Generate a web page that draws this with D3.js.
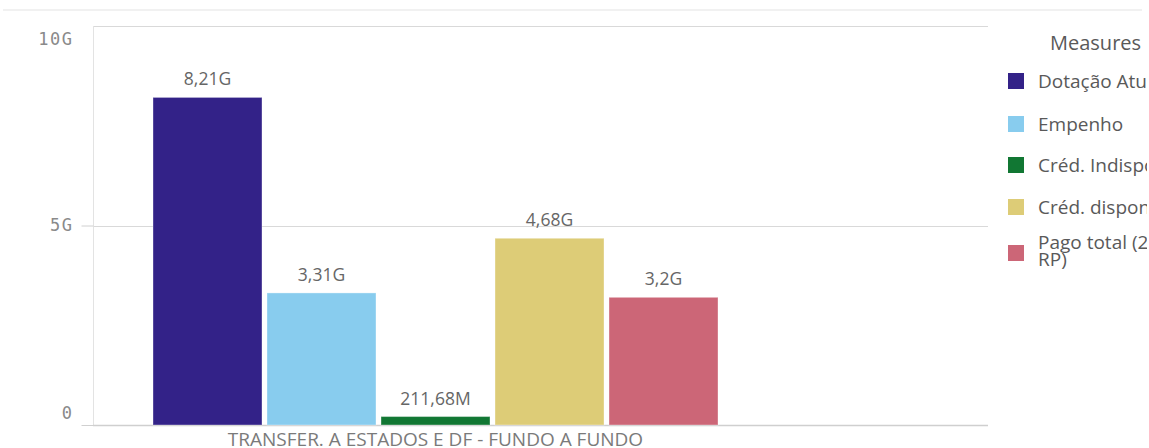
<!DOCTYPE html>
<html><head><meta charset="utf-8">
<script src="https://cdn.jsdelivr.net/npm/d3@7"></script>
<style>
html,body{margin:0;padding:0;background:#fff;}
svg{display:block;}
</style></head>
<body>
<svg id="chart" width="1149" height="448"></svg>
<script>
const category = "TRANSFER. A ESTADOS E DF - FUNDO A FUNDO";
const measures = ["Dotação Atual", "Empenho", "Créd. Indisponível", "Créd. disponível", "Pago total (2021 + RP)"];
const values = [8.21e9, 3.31e9, 211.68e6, 4.68e9, 3.2e9];
const valueLabels = ["8,21G", "3,31G", "211,68M", "4,68G", "3,2G"];
const colors = ["#332288", "#88ccee", "#117733", "#ddcc77", "#cc6677"];
const yTicks = [0, 5e9, 10e9];
const yTickLabels = ["0", "5G", "10G"];
const legendTitle = "Measures";

const svg = d3.select("#chart");
const plotLeft = 93, plotRight = 988, plotTop = 26, plotBottom = 425;

// top faint separator
svg.append("line").attr("x1", 3).attr("x2", 1142).attr("y1", 10).attr("y2", 10)
  .attr("stroke", "#f1f1f1").attr("stroke-width", 2);

const y = d3.scaleLinear().domain([0, 10e9]).range([plotBottom, plotTop]);
const x = d3.scaleBand().domain(measures).range([153, 718]).paddingInner(0.044).paddingOuter(0);

// gridlines
svg.append("g").selectAll("line").data(yTicks.filter(d => d > 0)).join("line")
  .attr("x1", plotLeft).attr("x2", plotRight)
  .attr("y1", d => Math.round(y(d)) + 0.5).attr("y2", d => Math.round(y(d)) + 0.5)
  .attr("stroke", "#d9d9d9").attr("stroke-width", 1);

// y axis
const yAxis = d3.axisLeft(y).tickValues(yTicks).tickFormat((d, i) => yTickLabels[i]).tickSize(12).tickPadding(8);
const gy = svg.append("g").attr("transform", `translate(${plotLeft + 0.5},0)`).call(yAxis);
gy.select(".domain").attr("stroke", "#e3e3e3").attr("d", `M0,${plotTop}V${plotBottom}`);
gy.selectAll(".tick line").attr("stroke", d => d === 10e9 ? "none" : "#d0d0d0");
gy.selectAll(".tick text").attr("fill", "#8a8a8a")
  .attr("y", d => d === 10e9 ? 13.5 : (d === 0 ? -12 : 0))
  .style("font-family", "'DejaVu Sans Mono', monospace").style("font-size", "17px")
  .style("letter-spacing", "1.5px");

// baseline
svg.append("line").attr("x1", plotLeft).attr("x2", plotRight)
  .attr("y1", Math.round(y(0)) + 0.5).attr("y2", Math.round(y(0)) + 0.5)
  .attr("stroke", "#cfcfcf").attr("stroke-width", 1.5);

// bars
svg.append("g").selectAll("rect").data(measures).join("rect")
  .attr("x", d => x(d)).attr("width", x.bandwidth())
  .attr("y", (d, i) => y(values[i])).attr("height", (d, i) => y(0) - y(values[i]))
  .attr("fill", (d, i) => colors[i])
  .attr("stroke", "rgba(255,255,255,0.35)").attr("stroke-width", 1);

// value labels
svg.append("g").selectAll("text").data(measures).join("text")
  .attr("x", d => x(d) + x.bandwidth() / 2)
  .attr("y", (d, i) => y(values[i]) - 12)
  .attr("text-anchor", "middle")
  .attr("fill", "#666")
  .style("font-family", "'Open Sans', sans-serif").style("font-size", "17.5px")
  .text((d, i) => valueLabels[i]);

// category label
svg.append("text")
  .attr("x", (x.range()[0] + x.range()[1]) / 2).attr("y", 446)
  .attr("text-anchor", "middle").attr("fill", "#7a7a7a")
  .style("font-family", "'Open Sans', sans-serif").style("font-size", "19px")
  .text(category);

// legend
const defs = svg.append("defs");
defs.append("clipPath").attr("id", "legclip").append("rect")
  .attr("x", 995).attr("y", 0).attr("width", 152).attr("height", 448);
const leg = svg.append("g").attr("clip-path", "url(#legclip)");
leg.append("text").attr("x", 1050).attr("y", 50).attr("fill", "#595959")
  .style("font-family", "'Open Sans', sans-serif").style("font-size", "20px")
  .text(legendTitle);
const rowY = [81, 124, 165, 207, 253];
measures.forEach((m, i) => {
  leg.append("rect").attr("x", 1008).attr("y", rowY[i] - 8).attr("width", 16).attr("height", 16)
    .attr("fill", colors[i]);
  const t = leg.append("text").attr("x", 1038).attr("fill", "#595959")
    .style("font-family", "'Open Sans', sans-serif").style("font-size", "19px");
  if (i === measures.length - 1) {
    t.append("tspan").attr("x", 1038).attr("y", rowY[i] - 4).text("Pago total (2021 +");
    t.append("tspan").attr("x", 1038).attr("y", rowY[i] + 13).text("RP)");
  } else {
    t.attr("y", rowY[i] + 7).text(m);
  }
});
</script>
</body></html>
